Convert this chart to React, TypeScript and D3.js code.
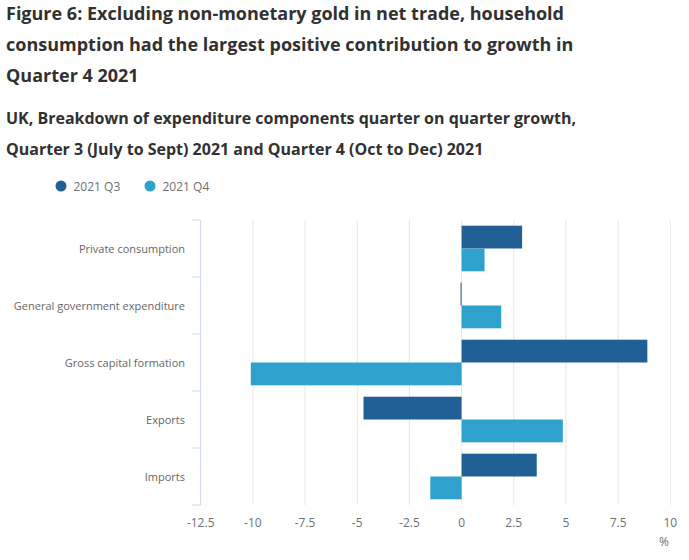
import React from "react";
import * as d3 from "d3";

const categories = ["Private consumption", "General government expenditure", "Gross capital formation", "Exports", "Imports"];
const seriesNames = ["2021 Q3", "2021 Q4"];
const q3Values = [2.9, -0.05, 8.9, -4.7, 3.6];
const q4Values = [1.1, 1.9, -10.1, 4.85, -1.5];
const xTicks = [-12.5, -10, -7.5, -5, -2.5, 0, 2.5, 5, 7.5, 10];
const titleLines = [
  "Figure 6: Excluding non-monetary gold in net trade, household",
  "consumption had the largest positive contribution to growth in",
  "Quarter 4 2021",
];
const subtitleLines = [
  "UK, Breakdown of expenditure components quarter on quarter growth,",
  "Quarter 3 (July to Sept) 2021 and Quarter 4 (Oct to Dec) 2021",
];

const colors = ["#206095", "#2ea1cc"];
const W = 689;
const H = 560;
const font = "'Open Sans', sans-serif";

export default function App() {
  const x = d3.scaleLinear().domain([-12.5, 10]).range([200.7, 670.3]);
  const y = d3.scaleBand<string>().domain(categories).range([220, 505]).paddingInner(0.2).paddingOuter(0.1);
  const inner = d3.scaleBand<string>().domain(seriesNames).range([0, y.bandwidth()]);
  const series = [q3Values, q4Values];
  const boundaries = d3.range(categories.length + 1).map((i) => 220 + i * y.step());

  return (
    <svg width={W} height={H} style={{ position: "absolute", left: 0, top: 0, display: "block" }} fontFamily={font}>
      <rect width={W} height={H} fill="#fff" />
      {titleLines.map((t, i) => (
        <text key={t} x={6} y={20 + i * 31} fontSize={18} fontWeight={700} fill="#323132">{t}</text>
      ))}
      {subtitleLines.map((t, i) => (
        <text key={t} x={6} y={123.5 + i * 31.5} fontSize={16} fontWeight={700} fill="#323132">{t}</text>
      ))}
      {seriesNames.map((s, i) => (
        <g key={s} transform={`translate(${61 + i * 89},186)`}>
          <circle r={5.5} fill={colors[i]} />
          <text x={12.5} y={4.5} fontSize={12} fill="#707070">{s}</text>
        </g>
      ))}
      {xTicks.map((t) => (
        <g key={t}>
          {t !== -12.5 && <line x1={x(t)} x2={x(t)} y1={220} y2={505} stroke="#e6e6e6" strokeWidth={1} />}
          <text x={x(t)} y={527} textAnchor="middle" fontSize={12} fill="#707070">{t}</text>
        </g>
      ))}
      <line x1={x(-12.5)} x2={x(-12.5)} y1={220} y2={505} stroke="#ccd6eb" strokeWidth={1} />
      {boundaries.map((b, i) => (
        <line key={i} x1={x(-12.5) - 9} x2={x(-12.5)} y1={b} y2={b} stroke="#ccd6eb" strokeWidth={1} />
      ))}
      {categories.map((c) => (
        <text key={c} x={185} y={(y(c) as number) + y.bandwidth() / 2 + 4} textAnchor="end" fontSize={11} fill="#666666">{c}</text>
      ))}
      {categories.map((c, ci) =>
        series.map((vals, si) => {
          const v = vals[ci];
          const x0 = x(Math.min(0, v));
          const x1 = x(Math.max(0, v));
          return (
            <rect
              key={`${c}-${si}`}
              x={x0}
              y={(y(c) as number) + (inner(seriesNames[si]) as number)}
              width={Math.max(x1 - x0, 1)}
              height={inner.bandwidth()}
              fill={colors[si]}
            />
          );
        })
      )}
      <text x={669} y={546} textAnchor="end" fontSize={12} fill="#707070">%</text>
    </svg>
  );
}
